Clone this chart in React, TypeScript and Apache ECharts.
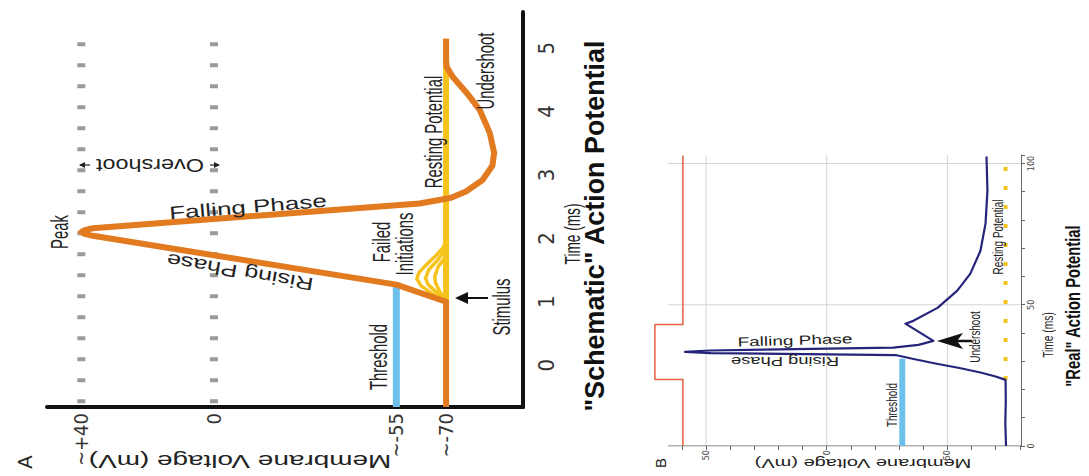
import React, { useEffect, useRef } from "react";
import * as echarts from "echarts";

// ---------- Panel A: "Schematic" action potential (time in ms, voltage in mV) ----------
const schemTime = [-0.66, 1.0, 1.27, 2.04, 2.07, 2.1, 2.13, 2.16, 2.55, 2.6, 2.64, 2.74, 2.92, 3.15, 3.35, 3.66, 4.02, 4.29, 4.54, 4.7, 4.8, 5.15];
const schemVolt = [-70, -70, -55, 36.5, 39, 40, 39, 36.5, -62, -67.5, -71.5, -76, -81, -84, -84.5, -83.2, -80.2, -76.3, -72.1, -70.2, -70, -70];

const fail1Time = [1.0, 1.12, 1.25, 1.36, 1.46, 1.57, 1.72, 1.86, 1.98];
const fail1Volt = [-70, -66, -62.5, -61.2, -61.8, -63.8, -66.8, -69.2, -70];
const fail2Time = [1.0, 1.14, 1.27, 1.37, 1.5, 1.64, 1.84];
const fail2Volt = [-70, -67.3, -64.6, -63.8, -64.7, -67.2, -70];
const fail3Time = [1.0, 1.15, 1.3, 1.4, 1.55, 1.72];
const fail3Volt = [-70, -68.2, -66.8, -66.6, -67.6, -70];

const restTimeA = [1.0, 5.15];
const restVoltA = -70;
const thresholdTimeA = [-0.66, 1.27];
const thresholdVoltA = -55;
const dottedVoltsA = [40, 0];
const dottedTimeA = [-0.6, 5.1];

const timeTicksA = [0, 1, 2, 3, 4, 5];
const voltTicksA = [40, 0, -55, -70];
const voltTickLabelsA = ["~+40", "0", "~-55", "~-70"];

// ---------- Panel B: "Real" action potential ----------
const realTime = [0, 8, 16, 23.4, 24.6, 26.0, 27.6, 29.2, 30.8, 32.2, 32.9, 33.3, 33.8, 34.8, 35.8, 37.2, 43.3, 44.3, 48.9, 55.0, 61.0, 69.1, 78.7, 90.4, 102.5];
const realVolt = [-74.3, -74.0, -74.2, -74.1, -70, -63.7, -55, -45, -36, -28.5, 48, 58.7, 48.4, -27.6, -38, -44.2, -32.6, -35.9, -45.9, -54.1, -59.5, -63.7, -65.8, -66.6, -66.2];

const stimTimeB = [0, 23.5, 23.5, 43, 43, 102.8];
const stimVoltB = [59.6, 59.6, 71.2, 71.2, 59.6, 59.6];

const restTimeB = [23.4, 103];
const restVoltB = -74.1;
const thresholdTimeB = [0, 30.9];
const thresholdVoltB = -31.3;

const axisVoltSpanB = [65.8, -80.5];
const gridVoltsB = [50, 0, -50];
const gridTimesB = [50, 100];
const voltTickMarksB = [-80, -70, -60, -50, -40, -30, -20, -10, 0, 10, 20, 30, 40, 50, 60];
const voltLabelsB = [50, 0, -50];
const timeLabelsB = [0, 50, 100];

const ORANGE = "#E27A1F";
const YELLOW = "#F6C21C";
const LBLUE = "#6DC0EA";
const NAVY = "#25247A";
const RED = "#E8603C";
const FONT = "Liberation Sans, Arial, sans-serif";
const NARROW = "Liberation Sans Narrow, DejaVu Sans Condensed, Liberation Sans, sans-serif";

const R90 = Math.PI / 2;

function txt(text: string, x: number, y: number, size: number, rot = R90, sx = 1, weight = "normal", color = "#222") {
  return {
    type: "text",
    x,
    y,
    rotation: rot,
    scaleX: sx,
    z: 10,
    style: {
      text,
      fill: color,
      font: `${weight} ${size}px ${FONT}`,
      align: "center",
      verticalAlign: "middle",
      textAlign: "center",
      textVerticalAlign: "middle",
    },
  };
}

const zip = (ts: number[], vs: number[]) => ts.map((t, i) => [vs[i], t]);

function lineSeries(data: any[], color: string, width: number, gi: number, extra: any = {}) {
  return {
    type: "line",
    xAxisIndex: gi,
    yAxisIndex: gi,
    data,
    showSymbol: false,
    symbol: "none",
    silent: true,
    lineStyle: { color, width, cap: "butt", join: "round", ...(extra.lineStyle || {}) },
    ...(extra.rest || {}),
  };
}

export default function App() {
  const ref = useRef<HTMLDivElement>(null);
  useEffect(() => {
    if (!ref.current) return;
    const chart = echarts.init(ref.current, null, { renderer: "svg" });

    const seriesA: any[] = [
      ...dottedVoltsA.map((v) =>
        lineSeries(dottedTimeA.map((t) => [v, t]), "#9a9a9a", 8, 0, { lineStyle: { type: [4, 17] } })
      ),
      lineSeries(thresholdTimeA.map((t) => [thresholdVoltA, t]), LBLUE, 7, 0),
      lineSeries(restTimeA.map((t) => [restVoltA, t]), YELLOW, 6, 0),
      lineSeries(zip(fail1Time, fail1Volt), YELLOW, 3.5, 0),
      lineSeries(zip(fail2Time, fail2Volt), YELLOW, 3.5, 0),
      lineSeries(zip(fail3Time, fail3Volt), YELLOW, 3.5, 0),
      lineSeries(zip(schemTime, schemVolt), ORANGE, 6, 0),
    ];

    const seriesB: any[] = [
      ...gridVoltsB.map((v) => lineSeries([[v, 0], [v, 103]], "#d4d4d4", 1, 1)),
      ...gridTimesB.map((t) => lineSeries(axisVoltSpanB.map((v) => [v, t]), "#d4d4d4", 1, 1)),
      lineSeries(axisVoltSpanB.map((v) => [v, 0]), "#666", 1.2, 1),
      lineSeries(zip(stimTimeB, stimVoltB), RED, 1.5, 1),
      lineSeries(restTimeB.map((t) => [restVoltB, t]), YELLOW, 4, 1, { lineStyle: { type: [4, 15] } }),
      lineSeries(thresholdTimeB.map((t) => [thresholdVoltB, t]), LBLUE, 6, 1),
      lineSeries(zip(realTime, realVolt), NAVY, 2.2, 1),
    ];

    const option: any = {
      animation: false,
      backgroundColor: "#fff",
      grid: [
        { left: 47, top: 12, width: 476, height: 395 },
        { left: 650, top: 155, width: 371, height: 291 },
      ],
      xAxis: [
        {
          type: "value",
          gridIndex: 0,
          inverse: true,
          min: -93.2,
          max: 50.35,
          axisLine: { show: true, onZero: false, lineStyle: { color: "#111", width: 4 } },
          axisTick: { show: false },
          splitLine: { show: false },
          axisLabel: {
            customValues: voltTicksA,
            formatter: (v: number) => voltTickLabelsA[voltTicksA.indexOf(v)] ?? "",
            rotate: 90,
            fontSize: 20,
            color: "#333",
            margin: 6,
            fontFamily: NARROW,
          },
        },
        {
          type: "value",
          gridIndex: 1,
          inverse: true,
          min: -80.5,
          max: 73.24,
          axisLine: { show: false, onZero: false },
          axisTick: { show: true, customValues: voltTickMarksB, length: 4, lineStyle: { color: "#666" } },
          splitLine: { show: false },
          axisLabel: {
            customValues: voltLabelsB,
            rotate: 90,
            fontSize: 9,
            color: "#444",
            margin: 4,
            fontFamily: NARROW,
          },
        },
      ],
      yAxis: [
        {
          type: "value",
          gridIndex: 0,
          position: "right",
          min: -0.66,
          max: 5.57,
          axisLine: { show: true, onZero: false, lineStyle: { color: "#111", width: 4 } },
          axisTick: { show: false },
          splitLine: { show: false },
          axisLabel: {
            customValues: timeTicksA,
            rotate: 90,
            fontSize: 22,
            color: "#333",
            margin: 12,
            fontFamily: NARROW,
          },
        },
        {
          type: "value",
          gridIndex: 1,
          position: "right",
          min: 0,
          max: 103,
          interval: 10,
          axisLine: { show: true, onZero: false, lineStyle: { color: "#666", width: 1 } },
          axisTick: { show: true, length: 4, lineStyle: { color: "#666" } },
          splitLine: { show: false },
          axisLabel: {
            customValues: timeLabelsB,
            rotate: 90,
            fontSize: 9,
            color: "#444",
            margin: 5,
            fontFamily: NARROW,
          },
        },
      ],
      series: [...seriesA, ...seriesB],
      graphic: [
        // Panel A labels
        txt("A", 25, 462, 20),
        txt("Membrane Voltage (mV)", 240, 462, 19, Math.PI, 1.47),
        txt("Peak", 60, 232, 24, R90, 0.62),
        txt("Overshoot", 150, 165, 18, Math.PI, 1.3),
        { type: "line", shape: { x1: 80, y1: 165, x2: 90, y2: 165 }, style: { stroke: "#222", lineWidth: 1.2 }, z: 10 },
        { type: "polygon", shape: { points: [[79, 165], [85, 162], [85, 168]] }, style: { fill: "#222" }, z: 10 },
        { type: "line", shape: { x1: 210, y1: 165, x2: 219, y2: 165 }, style: { stroke: "#222", lineWidth: 1.2 }, z: 10 },
        { type: "polygon", shape: { points: [[220, 165], [214, 162], [214, 168]] }, style: { fill: "#222" }, z: 10 },
        txt("Falling Phase", 248, 207, 18, 0.08, 1.45),
        txt("Rising Phase", 240, 272, 18, Math.PI - 0.17, 1.4),
        txt("Threshold", 379, 357, 24, R90, 0.62),
        txt("Failed", 382, 242, 24, R90, 0.62),
        txt("Initiations", 405, 244, 24, R90, 0.62),
        txt("Resting Potential", 434, 132, 24, R90, 0.62),
        txt("Undershoot", 486, 71, 24, R90, 0.62),
        txt("Stimulus", 502, 307, 24, R90, 0.62),
        { type: "line", shape: { x1: 488, y1: 298, x2: 465, y2: 298 }, style: { stroke: "#111", lineWidth: 2 }, z: 10 },
        { type: "polygon", shape: { points: [[455, 298], [468, 292], [468, 304]] }, style: { fill: "#111" }, z: 10 },
        txt("Time (ms)", 572, 234, 22, R90, 0.62),
        txt('"Schematic" Action Potential', 594, 226, 28, R90, 0.96, "bold", "#111"),
        // Panel B labels
        txt("B", 660, 463, 15),
        txt("Membrane Voltage (mV)", 863, 463, 13, Math.PI, 1.54),
        txt("Falling Phase", 795, 340, 13, 0.03, 1.46),
        txt("Rising Phase", 785, 361, 13, Math.PI, 1.41),
        txt("Threshold", 892, 405, 14, R90, 0.71),
        txt("Undershoot", 975, 337, 14, R90, 0.71),
        { type: "line", shape: { x1: 972, y1: 341, x2: 955, y2: 341 }, style: { stroke: "#111", lineWidth: 2.5 }, z: 10 },
        { type: "polygon", shape: { points: [[937, 341], [963, 333], [957, 341], [963, 349]] }, style: { fill: "#111" }, z: 10 },
        txt("Resting Potential", 998, 237, 14, R90, 0.71),
        txt("Time (ms)", 1048, 335, 14, R90, 0.73),
        txt('"Real" Action Potential', 1073, 306, 20, R90, 0.74, "bold", "#111"),
      ],
    };
    chart.setOption(option);
    return () => chart.dispose();
  }, []);
  return (
    <div
      ref={ref}
      style={{ position: "fixed", left: 0, top: 0, width: 1089, height: 476, background: "#fff" }}
    />
  );
}
